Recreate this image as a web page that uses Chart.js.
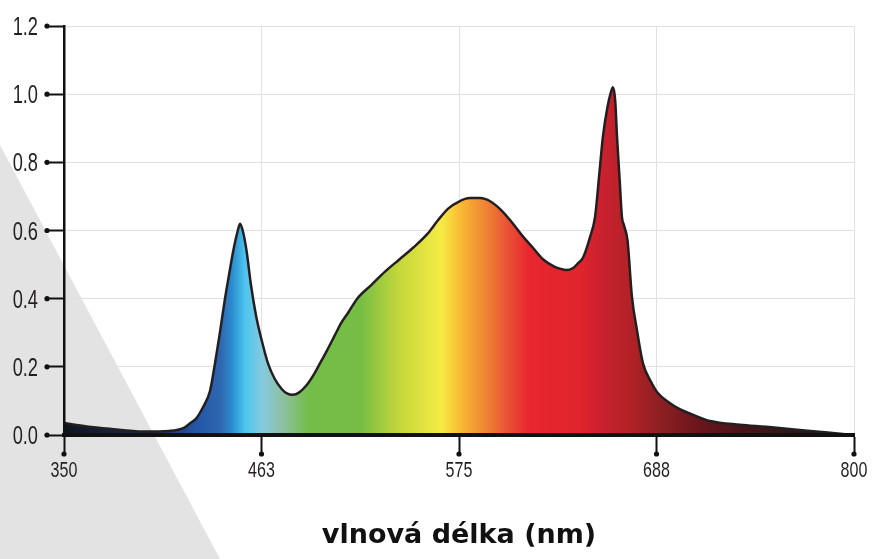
<!DOCTYPE html>
<html>
<head>
<meta charset="utf-8">
<script src="https://cdn.jsdelivr.net/npm/chart.js@4/dist/chart.umd.min.js"></script>
<style>
  html, body { margin: 0; padding: 0; background: #fff; }
  #wrap { width: 877px; height: 559px; position: relative; }
</style>
</head>
<body>
<div id="wrap"><canvas id="spectrum"></canvas></div>
<script>
'use strict';

/* --------------------------------------------------------------------------
   DATA — relative intensity vs wavelength (nm)
   -------------------------------------------------------------------------- */
const wavelengths = [
    350, 363, 376, 395, 410, 418, 422, 425.5, 429, 433.2, 436, 438.5, 441.7, 444, 446.4, 449, 450.3,
    451.8, 454, 456.5, 459.4, 462.5, 466.2, 470, 474, 477, 480.4, 484, 488, 492, 495.8, 500, 504,
    508, 512, 517, 525, 533, 541, 549, 557, 563, 569, 575, 581, 587, 593, 599, 605, 611, 617, 623,
    629, 632.5, 636, 640, 643, 645.6, 649.6, 652.5, 655, 657, 659.5, 661.5, 662.7, 664, 665, 666.5,
    667.8, 669, 671, 673.5, 676.3, 679.8, 684, 688, 695, 701, 707, 718, 735, 750, 769, 785, 800
];
const intensity = [
    0.035, 0.025, 0.018, 0.010, 0.012, 0.020, 0.035, 0.050, 0.080, 0.130, 0.210, 0.290, 0.400, 0.470, 0.540, 0.600, 0.620,
    0.600, 0.540, 0.440, 0.350, 0.280, 0.210, 0.165, 0.135, 0.122, 0.118, 0.125, 0.145, 0.175, 0.210, 0.250, 0.290,
    0.330, 0.360, 0.400, 0.440, 0.480, 0.515, 0.550, 0.590, 0.630, 0.665, 0.685, 0.695, 0.695, 0.685, 0.660, 0.625, 0.585, 0.550, 0.515,
    0.495, 0.488, 0.484, 0.490, 0.505, 0.520, 0.580, 0.640, 0.770, 0.876, 0.960, 1.005, 1.020, 0.980, 0.876, 0.750,
    0.640, 0.615, 0.570, 0.406, 0.310, 0.210, 0.160, 0.125, 0.094, 0.075, 0.062, 0.041, 0.030, 0.024, 0.015, 0.007, 0.000
];

const xTickValues = [350, 462.5, 575, 687.5, 800];
const xTickLabels = ['350', '463', '575', '688', '800'];
const yTickLabels = ['0.0', '0.2', '0.4', '0.6', '0.8', '1.0', '1.2'];
const axisTitle = 'vlnová délka (nm)';

/* --------------------------------------------------------------------------
   STYLE — spectral colour stops (nm -> colour)
   -------------------------------------------------------------------------- */
const spectrumStops = [
    [350, '#101420'], [388, '#18244a'], [410, '#213a7e'], [425, '#2356a5'], [439, '#2f66b0'],
    [446, '#2b8ed0'], [453, '#4bc4ee'], [463, '#86cade'], [476, '#8dbf9c'], [489, '#74bd48'],
    [519, '#76bd45'], [541, '#c4d73a'], [565, '#f6ec45'], [576, '#f9b934'], [593, '#ec7a35'],
    [604, '#ea4c36'], [615, '#e8262f'], [644, '#e1242d'], [655, '#cc2130'], [672, '#b32227'],
    [690, '#8c1f22'], [712, '#6a151c'], [735, '#4a1418'], [769, '#2e1616'], [800, '#241a1a']
];

function spectrumFill(context) {
    const { chart } = context;
    const area = chart.chartArea;
    if (!area) return null;
    const g = chart.ctx.createLinearGradient(area.left, 0, area.right, 0);
    spectrumStops.forEach(([nm, col]) => g.addColorStop((nm - 350) / 450, col));
    return g;
}

/* grey diagonal band behind the plot */
const backdropPlugin = {
    id: 'backdrop',
    beforeDraw(chart) {
        const c = chart.ctx;
        c.save();
        c.fillStyle = '#e3e3e3';
        c.beginPath();
        c.moveTo(0, 145);
        c.lineTo(220, 559);
        c.lineTo(0, 559);
        c.closePath();
        c.fill();
        c.restore();
    }
};

// draw condensed text: no narrow face installed, so squeeze it horizontally
function narrowText(c, text, x, y, align, size) {
    const squeeze = 0.73;
    c.save();
    c.font = size + "px 'Liberation Sans', Arimo, sans-serif";
    c.textAlign = align;
    c.textBaseline = 'alphabetic';
    c.translate(x, y);
    c.scale(squeeze, 1);
    c.fillText(text, 0, 0);
    c.restore();
}

/* round caps on tick marks + condensed tick labels */
const tickDecorPlugin = {
    id: 'tickDecor',
    afterDraw(chart) {
        const c = chart.ctx;
        const x = chart.scales.x, y = chart.scales.y;
        c.save();
        c.fillStyle = '#111';
        x.ticks.forEach((t, i) => {
            c.beginPath();
            c.arc(x.getPixelForTick(i), x.top + 19, 2.6, 0, Math.PI * 2);
            c.fill();
        });
        y.ticks.forEach((t, i) => {
            c.beginPath();
            c.arc(y.right - 17, y.getPixelForTick(i), 2.6, 0, Math.PI * 2);
            c.fill();
        });
        c.fillStyle = '#231f20';
        x.ticks.forEach((t, i) => narrowText(c, xTickLabels[i], x.getPixelForTick(i), x.top + 42, 'center', 22));
        y.ticks.forEach((t, i) => narrowText(c, yTickLabels[i], y.right - 26, y.getPixelForTick(i) + 9, 'right', 25));
        c.restore();
    }
};

new Chart(document.getElementById('spectrum').getContext('2d'), {
    type: 'line',
    data: {
        datasets: [{
            data: wavelengths.map((w, i) => ({ x: w, y: intensity[i] })),
            borderColor: '#231f20',
            borderWidth: 2.5,
            backgroundColor: spectrumFill,
            fill: 'origin',
            pointRadius: 0,
            cubicInterpolationMode: 'monotone',
        }],
    },
    options: {
        responsive: true,
        maintainAspectRatio: false,
        animation: false,
        layout: { padding: { left: 0, top: 26, right: 23, bottom: 0 } },
        plugins: { legend: { display: false }, tooltip: { enabled: false } },
        scales: {
            x: {
                type: 'linear',
                min: 350,
                max: 800,
                afterBuildTicks: s => { s.ticks = xTickValues.map(v => ({ value: v })); },
                afterFit: s => { s.height = 124; },
                ticks: { display: false },
                grid: { color: '#e1e1e1', lineWidth: 1, tickColor: '#111', tickWidth: 2, tickLength: 19 },
                border: { color: '#111', width: 4, z: 1 },
                title: {
                    display: true,
                    text: axisTitle,
                    color: '#111',
                    font: { family: "'DejaVu Sans', sans-serif", size: 27, weight: 'bold' },
                    padding: { top: 0, bottom: 7 },
                },
            },
            y: {
                min: 0,
                max: 1.2,
                afterFit: s => { s.width = 64; },
                ticks: { display: false, stepSize: 0.2 },
                grid: { color: '#e1e1e1', lineWidth: 1, tickColor: '#111', tickWidth: 2, tickLength: 17 },
                border: { color: '#111', width: 2.5, z: 1 },
            },
        },
    },
    plugins: [backdropPlugin, tickDecorPlugin],
});
</script>
</body>
</html>
